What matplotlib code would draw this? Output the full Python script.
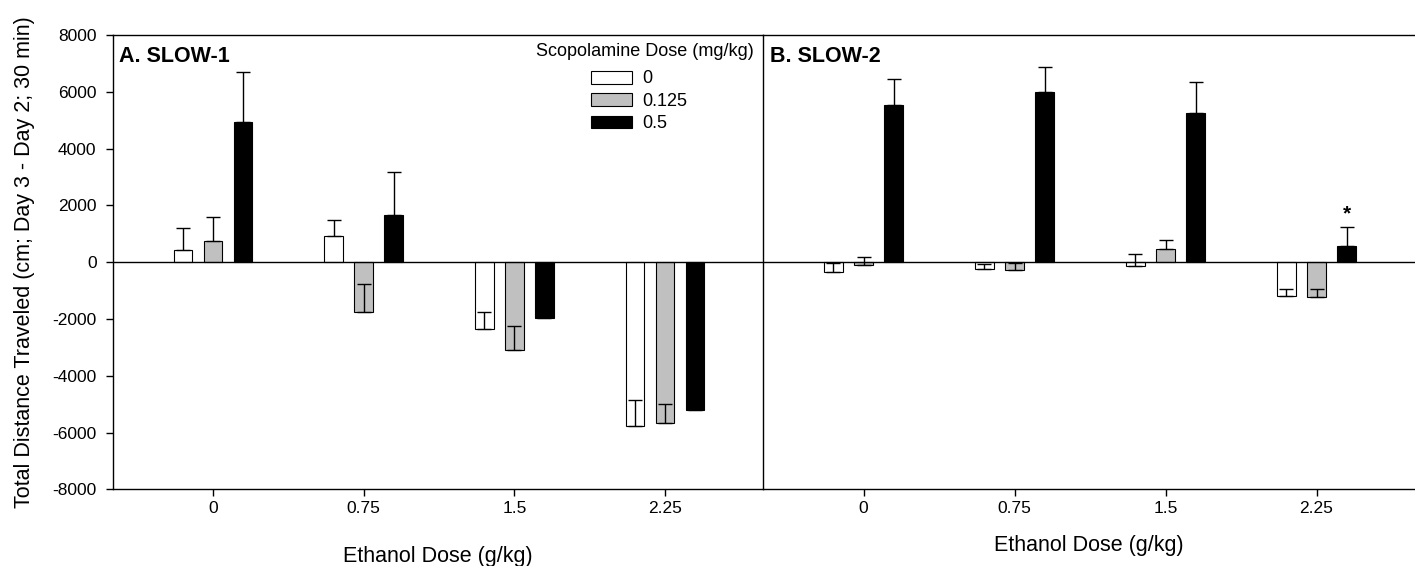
import matplotlib.pyplot as plt
import numpy as np

plt.rcParams['font.family'] = ['Liberation Sans', 'DejaVu Sans']
plt.rcParams['axes.unicode_minus'] = False

# data
ethanol = ["0", "0.75", "1.5", "2.25"]
scop_doses = ["0", "0.125", "0.5"]
colors = ["white", "#c0c0c0", "black"]

# SLOW-1: mean and SEM per scopolamine dose
slow1_mean = [[430, 930, -2360, -5760],
              [750, -1760, -3090, -5670],
              [4930, 1680, -1950, -5200]]
slow1_err = [[780, 560, 600, 915],
             [850, 1000, 845, 680],
             [1750, 1500, 300, 300]]

# SLOW-2
slow2_mean = [[-350, -250, -130, -1200],
              [-90, -270, 460, -1230],
              [5540, 5990, 5250, 575]]
slow2_err = [[330, 175, 420, 270],
             [290, 260, 340, 280],
             [900, 890, 1080, 680]]

fig = plt.figure(figsize=(14.15, 5.66), dpi=100)
ax1 = fig.add_axes([0.0797, 0.1352, 0.4598, 0.803])
ax2 = fig.add_axes([0.5394, 0.1352, 0.4606, 0.803])

x = np.arange(len(ethanol))
width = 0.123
offset = 0.199

for ax, means, errs, title in [(ax1, slow1_mean, slow1_err, "A. SLOW-1"),
                               (ax2, slow2_mean, slow2_err, "B. SLOW-2")]:
    for i in range(3):
        xs = x + (i - 1) * offset
        ax.bar(xs, means[i], width, color=colors[i], edgecolor="black",
               linewidth=0.8, label=scop_doses[i], zorder=2)
        # error drawn only in the positive direction (also inside negative bars)
        ax.errorbar(xs, means[i], yerr=[np.zeros(4), errs[i]], fmt="none",
                    ecolor="black", elinewidth=1, capsize=4.7, capthick=1,
                    zorder=3)
    ax.axhline(0, color="black", lw=1, zorder=4)
    ax.set_xlim(-0.664, 3.652)
    ax.set_ylim(-8000, 8000)
    ax.set_xticks(x)
    ax.set_xticklabels(ethanol, fontsize=12.5)
    ax.tick_params(axis="x", length=4.7, width=1, pad=3.5)
    ax.set_xlabel("Ethanol Dose (g/kg)", fontsize=15.5, va="center")
    ax.text(0.01, 0.975, title, transform=ax.transAxes, fontsize=15.5,
            fontweight="bold", va="top", ha="left")
    for sp in ax.spines.values():
        sp.set_linewidth(1)

ax1.xaxis.set_label_coords(0.5, -0.148)
ax2.xaxis.set_label_coords(0.5, -0.124)

ax1.set_yticks(np.arange(-8000, 8001, 2000))
ax1.tick_params(axis="y", labelsize=12.5, length=4.7, width=1, pad=7)
ax1.set_ylabel("Total Distance Traveled (cm; Day 3 - Day 2; 30 min)",
               fontsize=15.5, va="center")
ax1.yaxis.set_label_coords(-0.136, 0.5)
ax1.spines["right"].set_visible(False)
ax2.set_yticks([])
ax2.spines["right"].set_visible(False)

# asterisk over 2.25 / 0.5 in SLOW-2
ax2.text(x[3] + offset, slow2_mean[2][3] + slow2_err[2][3] + 120, "*",
         ha="center", va="bottom", fontsize=15, fontweight="bold")

# legend: title as separate text, entries below and indented
ax1.text(0.9857, 0.9626, "Scopolamine Dose (mg/kg)", transform=ax1.transAxes,
         ha="right", va="center", fontsize=13)
ax1.legend(loc="upper left", bbox_to_anchor=(0.7352, 0.922),
           frameon=False, fontsize=13, borderpad=0, borderaxespad=0,
           handlelength=2.27, handleheight=0.72, handletextpad=0.55,
           labelspacing=0.3)

fig.savefig("out.png", dpi=100)
